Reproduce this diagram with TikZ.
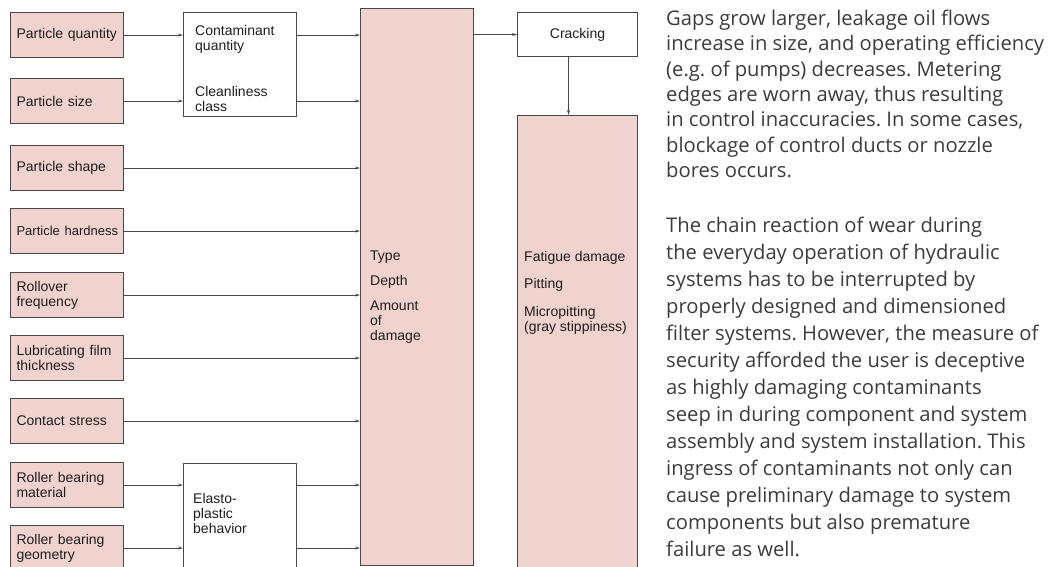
\documentclass[tikz,border=0pt]{standalone}
\usepackage{fontspec}
\setmainfont{Liberation Sans}
\newfontfamily\bodyfont{Open Sans}
\usetikzlibrary{positioning}
\usetikzlibrary{arrows.meta}
\definecolor{boxColor}{RGB}{240,211,206}
\definecolor{edgeColor}{RGB}{72,72,72}
\definecolor{labelColor}{RGB}{30,30,30}
\definecolor{bodyColor}{RGB}{60,60,60}
\frenchspacing

\begin{document}
\begin{tikzpicture}[x=1pt,y=-1pt]

          \tikzstyle{inputNode} = [draw=edgeColor, line width=1.1pt, fill=boxColor, text=labelColor, anchor=north west, minimum width=113pt, minimum height=45pt, text width=101pt, align=left, inner sep=0pt, font=\fontsize{14}{15}\selectfont];
          \tikzstyle{plainNode} = [draw=edgeColor, line width=1.1pt, fill=white, text=labelColor, anchor=north west, inner sep=0pt, font=\fontsize{14}{15}\selectfont];
          \tikzstyle{damageNode} = [draw=edgeColor, line width=1.1pt, fill=boxColor, anchor=north west, inner sep=0pt];
          \tikzstyle{labelNode} = [anchor=north west, inner sep=0pt, align=left, text=labelColor, font=\fontsize{14}{15}\selectfont];
          \tikzstyle{bodyNode} = [anchor=north west, inner sep=0pt, align=left, text=bodyColor, font=\bodyfont\fontsize{20.2}{27}\selectfont];

          \tikzstyle{normalEdge} = [draw=edgeColor, line width=0.8pt, -{Stealth[length=5pt,width=3pt]}];

          \useasboundingbox (0,0) rectangle (1050,567);
          \clip (0,0) rectangle (1050,567);

          % left column
          \node[inputNode] (quantity) at (10,12) {Particle quantity};
          \node[inputNode] (size) at (10,78) {Particle size};
          \node[inputNode] (shape) at (10,145) {Particle shape};
          \node[inputNode] (hardness) at (10,208) {\mbox{\fontsize{13}{15}\selectfont Particle hardness}};
          \node[inputNode] (rollover) at (10,272) {Rollover\\frequency};
          \node[inputNode] (film) at (10,335) {Lubricating film\\thickness};
          \node[inputNode] (stress) at (10,398) {Contact stress};
          \node[inputNode] (material) at (10,462) {Roller bearing\\material};
          \node[inputNode] (geometry) at (10,525) {Roller bearing\\geometry};

          % middle column
          \node[plainNode, minimum width=113pt, minimum height=104pt] (contaminant) at (183,12) {};
          \node[labelNode] (contaminantText) at (195,25) {Contaminant\\quantity};
          \node[labelNode] (cleanlinessText) at (195,86) {Cleanliness\\class};
          \node[plainNode, minimum width=113pt, minimum height=120pt] (elasto) at (183,463) {};
          \node[labelNode] (elastoText) at (193,493) {Elasto-\\plastic\\behavior};

          % damage boxes
          \node[damageNode, minimum width=113pt, minimum height=557pt] (damage) at (360,8) {};
          \node[labelNode] (damageText) at (370,251) {Type\\[10pt]Depth\\[10pt]Amount\\of\\damage};
          \node[plainNode, minimum width=120pt, minimum height=44pt] (cracking) at (517,12) {Cracking\hspace{14pt}};
          \node[damageNode, minimum width=120pt, minimum height=470pt] (fatigue) at (517,115) {};
          \node[labelNode] (fatigueText) at (524,251) {Fatigue damage\\[12pt]Pitting\\[13pt]Micropitting\\(gray stippiness)};

          % text
          \node[bodyNode, font=\bodyfont\fontsize{20.2}{25.3}\selectfont] (firstPar) at (666,10) {Gaps grow larger, leakage oil flows\\increase in size, and operating efficiency\\(e.g. of pumps) decreases. Metering\\edges are worn away, thus resulting\\in control inaccuracies. In some cases,\\blockage of control ducts or nozzle\\bores occurs.};
          \node[bodyNode] (secondPar) at (666,217) {The chain reaction of wear during\\the everyday operation of hydraulic\\systems has to be interrupted by\\properly designed and dimensioned\\filter systems. However, the measure of\\security afforded the user is deceptive\\as highly damaging contaminants\\seep in during component and system\\assembly and system installation. This\\ingress of contaminants not only can\\cause preliminary damage to system\\components but also premature\\failure as well.};

          \draw[normalEdge] (quantity) -- (quantity -| contaminant.west);
          \draw[normalEdge] (size) -- (size -| contaminant.west);
          \draw[normalEdge] (quantity -| contaminant.east) -- (quantity -| damage.west);
          \draw[normalEdge] (size -| contaminant.east) -- (size -| damage.west);
          \draw[normalEdge] (shape) -- (shape -| damage.west);
          \draw[normalEdge] (hardness) -- (hardness -| damage.west);
          \draw[normalEdge] (rollover) -- (rollover -| damage.west);
          \draw[normalEdge] (film) -- (film -| damage.west);
          \draw[normalEdge] (stress) -- (stress -| damage.west);
          \draw[normalEdge] (material) -- (material -| elasto.west);
          \draw[normalEdge] (geometry) -- (geometry -| elasto.west);
          \draw[normalEdge] (material -| elasto.east) -- (material -| damage.west);
          \draw[normalEdge] (geometry -| elasto.east) -- (geometry -| damage.west);
          \draw[normalEdge] (damage.east |- cracking) -- (cracking);
          \draw[normalEdge] ([xshift=-9pt]cracking.south) -- ([xshift=-9pt]cracking.south |- fatigue.north);
        \end{tikzpicture}
\end{document}
